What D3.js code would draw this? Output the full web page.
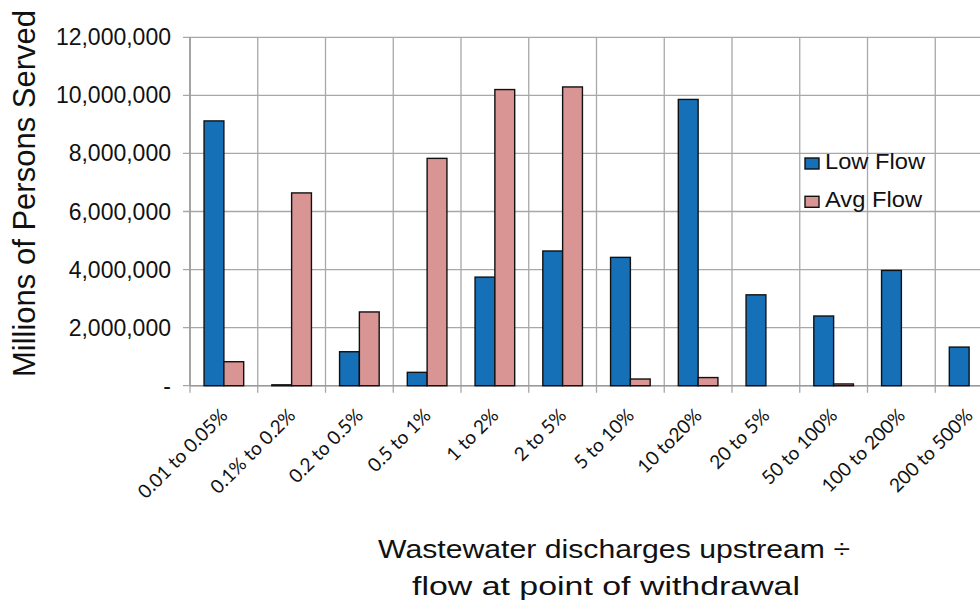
<!DOCTYPE html>
<html><head><meta charset="utf-8">
<script src="https://cdn.jsdelivr.net/npm/d3@7"></script>
<style>body{margin:0;background:#fff}svg{display:block}</style>
</head><body>
<svg id="c" width="980" height="605"></svg>
<script>
const categories = ["0.01 to 0.05%","0.1% to 0.2%","0.2 to 0.5%","0.5 to 1%","1 to 2%","2 to 5%","5 to 10%","10 to20%","20 to 5%","50 to 100%","100 to 200%","200 to 500%"];
const lowFlow = [9120000, 30000, 1170000, 460000, 3740000, 4640000, 4420000, 9860000, 3130000, 2400000, 3970000, 1330000];
const avgFlow = [826000, 6640000, 2540000, 7830000, 10200000, 10290000, 230000, 280000, 0, 60000, 0, 0];
const yTicks = [0, 2000000, 4000000, 6000000, 8000000, 10000000, 12000000];
const seriesNames = ["Low Flow", "Avg Flow"];
const colors = ["#1570b8", "#d99594"];

(function(){
const svg = d3.select("#c");
const pL = 190, pR = 1003, pT = 37.3, pB = 385.7;
const x = d3.scaleBand().domain(categories).range([pL, pR]).paddingInner(0).paddingOuter(0);
const y = d3.scaleLinear().domain([0, 12000000]).range([pB, pT]);
const inner = d3.scaleBand().domain([0,1]).range([0, x.bandwidth()]).paddingInner(0).paddingOuter(0.71);

const grid = "#a8a8a8";
svg.append("g").selectAll("line").data(yTicks).join("line")
  .attr("x1", pL - 7).attr("x2", 980).attr("y1", d => y(d)).attr("y2", d => y(d))
  .attr("stroke", grid).attr("stroke-width", 1.3);
const bounds = categories.map(c => x(c)).concat([x(categories[categories.length-1]) + x.bandwidth()]);
svg.append("g").selectAll("line").data(bounds).join("line")
  .attr("x1", d => d).attr("x2", d => d).attr("y1", pT).attr("y2", pB + 7)
  .attr("stroke", grid).attr("stroke-width", 1.3);
svg.append("line").attr("x1", pL).attr("x2", pL).attr("y1", pT).attr("y2", pB)
  .attr("stroke", "#999").attr("stroke-width", 1.5);
svg.append("line").attr("x1", pL).attr("x2", 980).attr("y1", pB).attr("y2", pB)
  .attr("stroke", "#999").attr("stroke-width", 1.5);

const data = categories.map((c, i) => ({c, vals: [lowFlow[i], avgFlow[i]]}));
const g = svg.append("g").selectAll("g").data(data).join("g")
  .attr("transform", d => `translate(${x(d.c)},0)`);
g.selectAll("rect").data(d => d.vals.map((v, k) => ({v, k})).filter(e => e.v > 0)).join("rect")
  .attr("x", d => inner(d.k)).attr("width", inner.bandwidth())
  .attr("y", d => y(d.v)).attr("height", d => pB - y(d.v))
  .attr("fill", d => colors[d.k]).attr("stroke", "#111").attr("stroke-width", 1.4);

svg.append("g").selectAll("text").data(yTicks).join("text")
  .attr("x", 171).attr("y", d => y(d) + 8)
  .attr("text-anchor", "end")
  .attr("font-family", "Liberation Sans, Arial, sans-serif").attr("font-size", 23)
  .attr("fill", "#111")
  .text(d => d === 0 ? "-" : d3.format(",")(d));

svg.append("g").selectAll("text").data(categories).join("text")
  .attr("transform", c => `translate(${x(c) + x.bandwidth()/2 + 5},${pB + 31}) rotate(-45)`)
  .attr("text-anchor", "end")
  .attr("font-family", "Lato, sans-serif").attr("font-size", 19)
  .attr("fill", "#111")
  .text(d => d);

svg.append("text")
  .attr("transform", `translate(35,193.5) rotate(-90)`)
  .attr("text-anchor", "middle")
  .attr("font-family", "Liberation Sans, Arial, sans-serif").attr("font-size", 31)
  .attr("fill", "#111")
  .text("Millions of Persons Served");

const xt = svg.append("text").attr("text-anchor", "middle")
  .attr("font-family", "Liberation Sans, Arial, sans-serif").attr("font-size", 26).attr("fill", "#111");
xt.append("tspan").attr("x", 614).attr("y", 558).attr("textLength", 472).attr("lengthAdjust", "spacingAndGlyphs").text("Wastewater discharges upstream ÷");
xt.append("tspan").attr("x", 606).attr("y", 595).attr("textLength", 388).attr("lengthAdjust", "spacingAndGlyphs").text("flow at point of withdrawal");

const leg = svg.append("g").selectAll("g").data(seriesNames).join("g")
  .attr("transform", (d, i) => `translate(805,${158 + i * 38.3})`);
leg.append("rect").attr("width", 14).attr("height", 11)
  .attr("fill", (d, i) => colors[i]).attr("stroke", "#111").attr("stroke-width", 1.4);
leg.append("text").attr("x", 20).attr("y", 10.5)
  .attr("font-family", "Liberation Sans, Arial, sans-serif").attr("font-size", 22).attr("fill", "#111")
  .attr("textLength", (d, i) => i === 0 ? 100 : 97).attr("lengthAdjust", "spacingAndGlyphs")
  .text(d => d);
})();
</script>
</body></html>
